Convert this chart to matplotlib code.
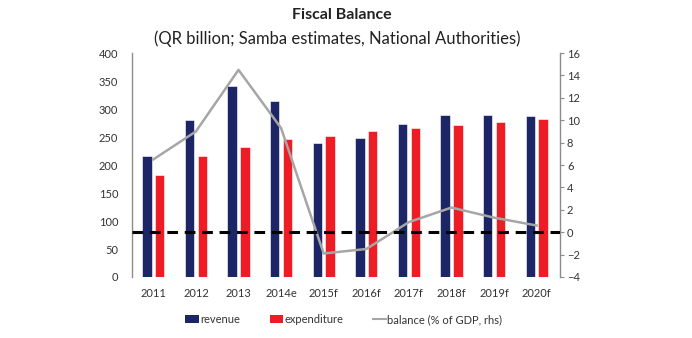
import matplotlib
matplotlib.use("Agg")
import matplotlib.pyplot as plt
import numpy as np
from matplotlib.lines import Line2D
from matplotlib.patches import Patch

plt.rcParams['font.family'] = ['Lato', 'DejaVu Sans']

years = ["2011", "2012", "2013", "2014e", "2015f", "2016f", "2017f", "2018f", "2019f", "2020f"]
revenue = [217, 280, 341, 315, 239, 248, 274, 290, 290, 288]
expenditure = [183, 217, 233, 247, 252, 261, 267, 272, 277, 282]
balance = [6.5, 9.0, 14.5, 9.3, -1.9, -1.5, 0.9, 2.2, 1.3, 0.6]

navy = "#1c2566"
red = "#ee1d25"
grey = "#a6a6a6"
text_col = "#333333"

fig = plt.figure(figsize=(6.92, 3.38), dpi=100)
ax = fig.add_axes([0.1908, 0.1805, 0.6185, 0.6625])
ax2 = ax.twinx()

x = np.arange(len(years))
w = 0.22
off = 0.15
ax.bar(x - off, revenue, w, color=navy, edgecolor="white", linewidth=0.4, zorder=2)
ax.bar(x + off, expenditure, w, color=red, edgecolor="white", linewidth=0.4, zorder=2)

ax.set_ylim(0, 400)
ax.set_yticks(range(0, 401, 50))
ax.set_xlim(-0.5, 9.55)
ax.set_xticks(x)
ax.set_xticklabels(years)

# Balance on the right-hand scale, with the zero line dashed
ax2.set_ylim(-4, 16)
ax2.set_yticks(range(-4, 17, 2))
ax2.plot(x, balance, color=grey, linewidth=1.8, zorder=3)
ax2.axhline(0, color="black", linewidth=2.2, linestyle=(0, (3.5, 2.2)), zorder=4)

for a in (ax, ax2):
    a.spines["top"].set_visible(False)
    a.spines["bottom"].set_visible(False)
    a.patch.set_visible(False)
ax.spines["right"].set_visible(False)
ax2.spines["left"].set_visible(False)
ax.spines["left"].set_color("#8c8c8c")
ax.spines["left"].set_linewidth(1.0)
ax2.spines["right"].set_color("#8c8c8c")
ax2.spines["right"].set_linewidth(1.0)

ax.tick_params(axis="y", length=0, labelsize=8, labelcolor=text_col, pad=10)
ax.tick_params(axis="x", length=0, labelsize=8, labelcolor=text_col, pad=8)
ax2.tick_params(axis="y", length=3, color="#8c8c8c", labelsize=8, labelcolor=text_col, pad=2)

fig.text(0.494, 0.956, "Fiscal Balance", ha="center", va="center",
         fontsize=11.5, fontweight="bold", color="#222222")
fig.text(0.488, 0.885, "(QR billion; Samba estimates, National Authorities)", ha="center",
         va="center", fontsize=12, color="#222222")

handles = [Patch(facecolor=navy), Patch(facecolor=red),
           Line2D([0], [0], color=grey, linewidth=1.5)]
labels = ["revenue", "expenditure", "balance (% of GDP, rhs)"]
fig.legend(handles, labels, loc="center", bbox_to_anchor=(0.497, 0.055), ncol=3,
           frameon=False, fontsize=8, handlelength=1.2, handletextpad=0.1,
           columnspacing=2.7, labelcolor=text_col, handleheight=0.8)

fig.savefig("out.png", dpi=100)
